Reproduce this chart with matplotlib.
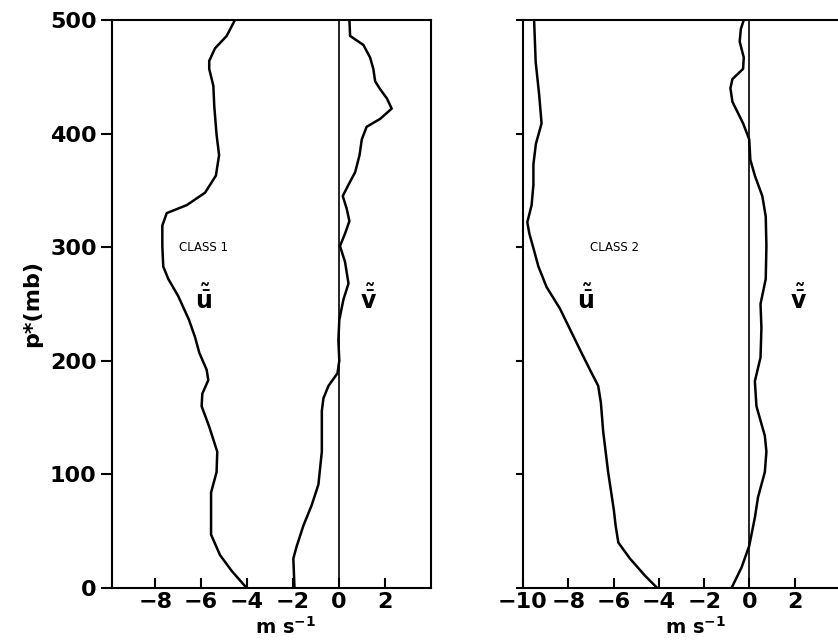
import matplotlib
matplotlib.use("Agg")
from matplotlib import pyplot as plt

# class 1 profiles (p* in mb, wind in m/s)
p1_u = [500, 486, 475, 464, 457, 442, 424, 399, 381, 363, 348, 337, 330, 319, 301, 283, 272, 257,
        236, 221, 207, 192, 183, 171, 160, 142, 120, 102, 84, 47, 29, 15, 0]
u1 = [-4.53, -4.89, -5.40, -5.65, -5.65, -5.47, -5.43, -5.33, -5.22, -5.36, -5.83, -6.63, -7.50,
      -7.69, -7.69, -7.65, -7.43, -7.00, -6.53, -6.27, -6.08, -5.76, -5.69, -5.95, -5.98, -5.65,
      -5.30, -5.33, -5.57, -5.57, -5.18, -4.67, -4.02]

p1_v = [500, 486, 478, 467, 457, 446, 439, 431, 422, 413, 406, 395, 381, 366, 355, 345, 334, 323,
        312, 301, 287, 268, 254, 236, 218, 200, 189, 178, 167, 156, 120, 91, 73, 55, 37, 26, 0]
v1 = [0.45, 0.48, 1.06, 1.35, 1.49, 1.57, 1.79, 2.08, 2.29, 1.79, 1.20, 0.99, 0.89, 0.70, 0.41,
      0.16, 0.33, 0.45, 0.26, 0.04, 0.26, 0.41, 0.19, 0.01, -0.03, 0.01, -0.07, -0.46, -0.68,
      -0.75, -0.75, -0.90, -1.19, -1.55, -1.84, -1.99, -1.94]

# class 2 profiles
p2_u = [500, 463, 435, 409, 391, 373, 355, 337, 322, 312, 297, 283, 265, 246, 228, 210, 192, 178,
        163, 138, 102, 69, 55, 40, 26, 11, 0]
u2 = [-9.51, -9.44, -9.29, -9.18, -9.43, -9.54, -9.54, -9.62, -9.81, -9.72, -9.51, -9.32, -8.96,
      -8.37, -7.93, -7.49, -7.04, -6.68, -6.56, -6.46, -6.24, -5.99, -5.91, -5.79, -5.28, -4.62,
      -4.07]

p2_v = [500, 492, 481, 467, 457, 448, 440, 428, 409, 395, 377, 363, 345, 327, 301, 272, 250, 229,
        203, 182, 160, 134, 120, 102, 80, 62, 37, 18, 0]
v2 = [-0.25, -0.38, -0.43, -0.25, -0.28, -0.75, -0.84, -0.75, -0.28, -0.01, 0.04, 0.24, 0.57,
      0.72, 0.75, 0.72, 0.49, 0.53, 0.49, 0.24, 0.31, 0.68, 0.75, 0.68, 0.38, 0.24, -0.01, -0.35,
      -0.79]

plt.rcParams['font.family'] = ['DejaVu Sans']
plt.rcParams['mathtext.fontset'] = 'dejavusans'

W, H = 838, 644
fig = plt.figure(figsize=(W / 100, H / 100), dpi=100)

ax1 = fig.add_axes([112 / W, 1 - 588 / H, (431 - 112) / W, 568 / H])
ax2 = fig.add_axes([523 / W, 1 - 588 / H, (840 - 523) / W, 568 / H])

panels = [
    (ax1, p1_u, u1, p1_v, v1, 'CLASS 1', (-9.88, 4.0), [-8, -6, -4, -2, 0, 2],
     (-6.95, 300), (-5.9, 254), (1.3, 254)),
    (ax2, p2_u, u2, p2_v, v2, 'CLASS 2', (-10.0, 4.0), [-10, -8, -6, -4, -2, 0, 2],
     (-7.05, 300), (-7.25, 254), (2.15, 254)),
]

for ax, pu, u, pv, v, title, xl, xt, tpos, upos, vpos in panels:
    ax.plot(u, pu, color='black', lw=1.8, solid_capstyle='round')
    ax.plot(v, pv, color='black', lw=1.8, solid_capstyle='round')
    ax.axvline(0, color='black', lw=1.2)
    ax.set_xlim(*xl)
    ax.set_ylim(0, 500)
    ax.set_xticks(xt)
    ax.set_xticklabels(['\u2212%d' % -t if t < 0 else '%d' % t for t in xt])
    ax.set_yticks([0, 100, 200, 300, 400, 500])
    for s in ax.spines.values():
        s.set_linewidth(1.5)
    ax.tick_params(axis='x', direction='in', length=7, width=1.5, pad=3,
                   labelsize=16)
    ax.tick_params(axis='y', direction='out', length=8, width=1.5, pad=3,
                   labelsize=16)
    for lab in ax.get_xticklabels() + ax.get_yticklabels():
        lab.set_fontweight('bold')
    ax.text(tpos[0], tpos[1], title, fontsize=8.5, va='center', ha='left')
    ax.text(upos[0], upos[1], r'$\tilde{\bar{\mathbf{u}}}$', fontsize=17, ha='center', va='center')
    ax.text(vpos[0], vpos[1], r'$\tilde{\bar{\mathbf{v}}}$', fontsize=17, ha='center', va='center')
    ax.set_xlabel(r'm s$^{\mathbf{-1}}$', fontsize=14, fontweight='bold', labelpad=0)
    ax.xaxis.set_label_coords(0.545, -0.05)

ax1.set_ylabel('p*(mb)', fontsize=16, fontweight='bold', labelpad=6)
ax2.tick_params(axis='y', labelleft=False, length=5)

fig.savefig('out.png', dpi=100)
